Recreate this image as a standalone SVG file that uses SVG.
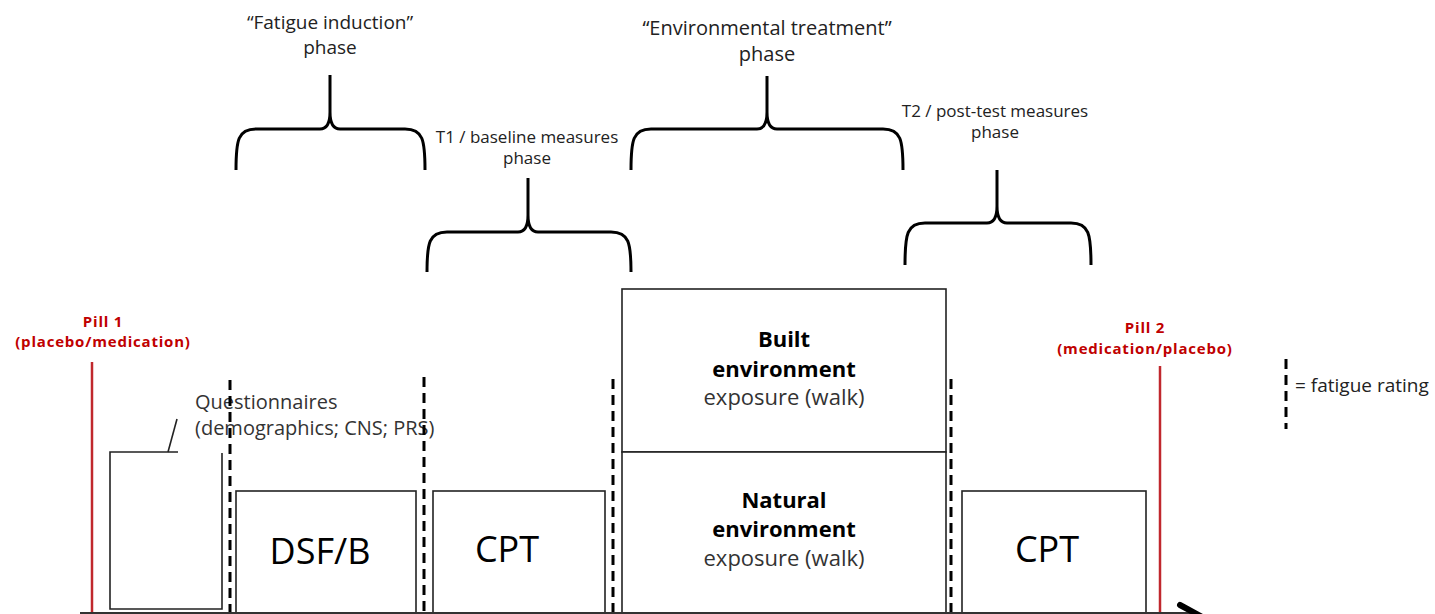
<svg xmlns="http://www.w3.org/2000/svg" width="1435" height="614" viewBox="0 0 1435 614">
<style>
text{font-family:"Open Sans","Noto Sans","Liberation Sans",sans-serif;}
.brace{fill:none;stroke:#000;stroke-width:3;stroke-linejoin:round;}
.box{fill:#fff;stroke:#222;stroke-width:1.6;}
.dash{stroke:#000;stroke-width:3;stroke-dasharray:10 6;}
.red{fill:#c00000;font-weight:bold;font-size:15px;letter-spacing:0.8px;text-anchor:middle;}
.pill{stroke:#c0282d;stroke-width:2.5;}
.ph{fill:#222;text-anchor:middle;}
.big{fill:#000;font-size:36px;text-anchor:middle;}
.env{fill:#000;font-size:22px;font-weight:bold;text-anchor:middle;}
.exp{fill:#333;font-size:22px;text-anchor:middle;}
</style>
<rect width="1435" height="614" fill="#fff"/>

<g id="phase-fatigue">
<path class="brace" d="M236,170 C236,140 238,129 256,129 L320,129 C327,129 330,123 330,112 L330,75 M330,112 C330,123 333,129 340,129 L405,129 C423,129 425,140 425,170"/>
<text class="ph" x="330" y="29" font-size="19">“Fatigue  induction”</text>
<text class="ph" x="330" y="54" font-size="19">phase</text>
</g>
<g id="phase-t1">
<path class="brace" d="M427,272 C427,243 429,232 447,232 L518,232 C525,232 528,226 528,215 L528,178 M528,215 C528,226 531,232 538,232 L611,232 C629,232 631,243 631,272"/>
<text class="ph" x="527" y="143" font-size="17">T1 / baseline measures</text>
<text class="ph" x="527" y="164" font-size="17">phase</text>
</g>
<g id="phase-env">
<path class="brace" d="M631,170 C631,140 633,129 651,129 L757,129 C764,129 767,123 767,112 L767,76 M767,112 C767,123 770,129 777,129 L883,129 C901,129 903,140 903,170"/>
<text class="ph" x="767" y="35" font-size="20">“Environmental  treatment”</text>
<text class="ph" x="767" y="61" font-size="20">phase</text>
</g>
<g id="phase-t2">
<path class="brace" d="M905,265 C905,234 907,223 925,223 L987,223 C994,223 997,217 997,206 L997,170 M997,206 C997,217 1000,223 1007,223 L1071,223 C1089,223 1091,234 1091,265"/>
<text class="ph" x="995" y="117" font-size="17">T2 / post-test measures</text>
<text class="ph" x="995" y="138" font-size="17">phase</text>
</g>

<g id="pill1">
<line class="pill" x1="92" y1="362" x2="92" y2="614"/>
<text class="red" x="103" y="327">Pill 1</text>
<text class="red" x="103" y="347">(placebo/medication)</text>
</g>

<g id="questionnaires">
<path fill="none" stroke="#222" stroke-width="1.6" d="M178,452 L110,452 L110,609 L222,609 L222,453"/>
<line x1="168" y1="452" x2="177" y2="419" stroke="#222" stroke-width="1.6"/>
<text x="195" y="409" font-size="20" fill="#333">Questionnaires</text>
<text x="195" y="435" font-size="20" fill="#333">(demographics; CNS; PRS)</text>
</g>

<g id="dsfb">
<rect class="box" x="236" y="491" width="180" height="122"/>
<text class="big" x="320" y="564">DSF/B</text>
</g>
<g id="cpt1">
<rect class="box" x="433" y="491" width="172" height="122"/>
<text class="big" x="507" y="562">CPT</text>
</g>
<g id="built">
<rect class="box" x="622" y="289" width="324" height="163"/>
<text class="env" x="784" y="347">Built</text>
<text class="env" x="784" y="377">environment</text>
<text class="exp" x="784" y="405">exposure (walk)</text>
</g>
<g id="natural">
<rect class="box" x="622" y="452" width="324" height="161"/>
<text class="env" x="784" y="508">Natural</text>
<text class="env" x="784" y="537">environment</text>
<text class="exp" x="784" y="566">exposure (walk)</text>
</g>
<g id="cpt2">
<rect class="box" x="962" y="491" width="184" height="122"/>
<text class="big" x="1047" y="562">CPT</text>
</g>

<g id="pill2">
<line class="pill" x1="1160" y1="366" x2="1160" y2="614"/>
<text class="red" x="1145" y="333">Pill 2</text>
<text class="red" x="1145" y="354">(medication/placebo)</text>
</g>

<g id="legend">
<line class="dash" x1="1286" y1="359" x2="1286" y2="429"/>
<text x="1295" y="392" font-size="19" fill="#222">= fatigue rating</text>
</g>

<g id="connectors">
<line class="dash" x1="230" y1="380" x2="230" y2="614"/>
<line class="dash" x1="424" y1="377" x2="424" y2="614"/>
<line class="dash" x1="613" y1="379" x2="613" y2="614"/>
<line class="dash" x1="951" y1="379" x2="951" y2="614"/>
<line x1="80" y1="613" x2="1190" y2="613" stroke="#333" stroke-width="2"/>
<line x1="1180" y1="605" x2="1204" y2="618" stroke="#000" stroke-width="6" stroke-linecap="round"/>
</g>
</svg>
